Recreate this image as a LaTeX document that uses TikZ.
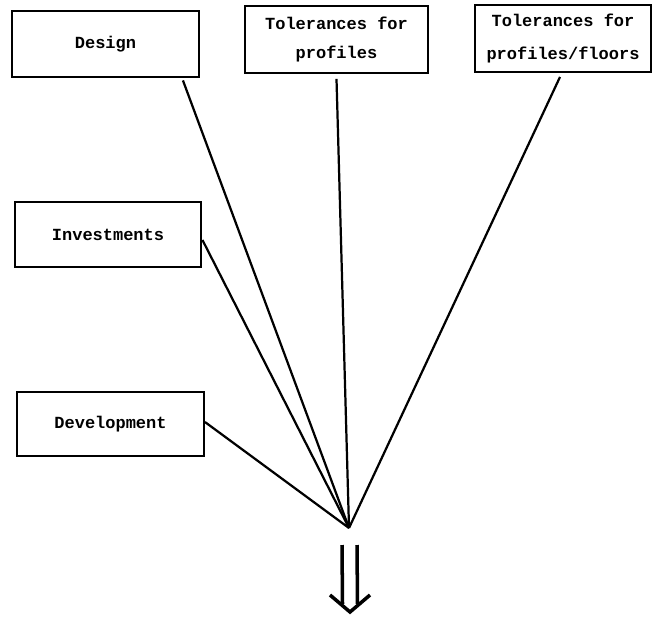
\documentclass[tikz,border=0pt]{standalone}
\usepackage{fontspec}
\setmonofont{Liberation Mono}
\usepackage{tikz}
\usetikzlibrary{calc}
\tikzstyle{factor} = [rectangle, draw=black, line width=1.9pt, minimum width=5.6cm, minimum height=2cm, inner sep=0pt, align=center, font=\ttfamily\bfseries\fontsize{14.5}{25}\selectfont]
\tikzstyle{link} = [line width=1.9pt]
\tikzstyle{shaft} = [line width=3pt]

\begin{document}
\begin{tikzpicture}[x=0.03cm, y=-0.03cm]
  \useasboundingbox (0,0) rectangle (653,616);
  % ---------- top row ----------
  \node[factor] (design) at (105.5,44) {Design};
  \node[factor, minimum width=5.49cm] (tolprof) at (336.5,39.5) {Tolerances for\\profiles};
  \node[factor, minimum width=5.28cm, font=\ttfamily\bfseries\fontsize{14.5}{28}\selectfont] (tolfloor) at (563,38.5) {Tolerances for\\profiles/floors};
  % ---------- left column ----------
  \node[factor, minimum height=1.95cm] (invest) at (108,234.5) {Investments};
  \node[factor, minimum height=1.92cm] (devel) at (110.5,424) {Development};
  % ---------- meeting point ----------
  \coordinate (hub) at (349,528);
  % ---------- lines into the hub ----------
  \draw[link] ([shift={(-17,2)}]design.south east) -- (hub);
  \draw[link] ([shift={(0,5)}]tolprof.south) -- (hub);
  \draw[link] ([shift={(-3,4)}]tolfloor.south) -- (hub);
  \draw[link] ([shift={(0,5.5)}]invest.east) -- (hub);
  \draw[link] ([shift={(0,-2)}]devel.east) -- (hub);
  % ---------- output arrow ----------
  \coordinate (outtop) at (349.5,545);
  \coordinate (outtip) at (350,612);
  \draw[shaft] ([shift={(-7.5,0)}]outtop) -- ([shift={(-7.5,-8)}]outtip);
  \draw[shaft] ([shift={(7.5,0)}]outtop) -- ([shift={(7.5,-8)}]outtip);
  \draw[shaft] ([shift={(-20,-17)}]outtip) -- (outtip) -- ([shift={(20,-17)}]outtip);
\end{tikzpicture}
\end{document}
